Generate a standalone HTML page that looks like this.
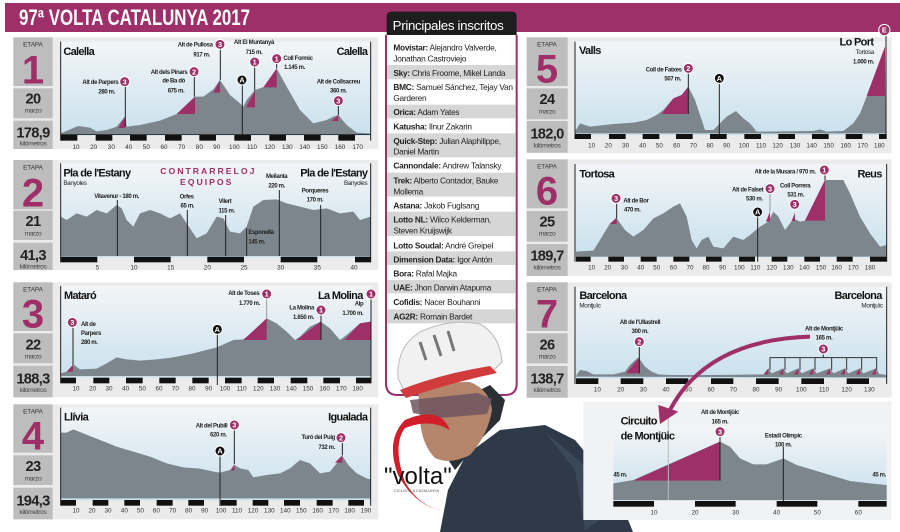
<!DOCTYPE html>
<html><head><meta charset="utf-8"><style>
html,body{margin:0;padding:0;background:#fff;}
svg{display:block;}
text{font-family:"Liberation Sans Narrow","Liberation Sans",sans-serif;}
.b{font-weight:bold;}
.t{font-size:19px;fill:#333;text-anchor:middle;}
.l{font-size:18px;fill:#222;font-weight:bold;letter-spacing:-1px;}
.r{text-anchor:end;}
.c{text-anchor:middle;}
.nm{font-size:33px;font-weight:bold;fill:#111;letter-spacing:-2px;}
.sub{font-size:19px;fill:#222;letter-spacing:-1px;}
.et{font-size:19px;fill:#333;text-anchor:middle;}
.big{font-size:120px;font-weight:bold;fill:#9e2f68;text-anchor:middle;}
.dt{font-size:44px;font-weight:bold;fill:#222;text-anchor:middle;letter-spacing:-2px;}
.mz{font-size:20px;fill:#444;text-anchor:middle;letter-spacing:-1px;}
.pt{font-size:25px;fill:#222;letter-spacing:-0.8px;}
.mk{fill:#9e2f68;stroke:#fff;stroke-width:3;}
.mkA{fill:#111;stroke:#fff;stroke-width:3;}
.mn{font-size:22px;font-weight:bold;fill:#fff;text-anchor:middle;}
.ln{stroke:#222;stroke-width:3;}
.prof{fill:#7d868c;}
.mag{fill:#9e2f68;}
.bar{fill:#111;}
.box{fill:#bdbdbd;}
.pan{fill:#ebebeb;}
</style></head><body>
<svg width="900" height="532" viewBox="0 0 900 532" xmlns="http://www.w3.org/2000/svg">
<defs>
<linearGradient id="sky" x1="0" y1="0" x2="0" y2="1"><stop offset="0" stop-color="#f3f5f7"/><stop offset="1" stop-color="#c9e1ee"/></linearGradient>
</defs>
<rect x="0" y="0" width="900" height="532" fill="#fff"/>
<rect x="5" y="3" width="895" height="29" fill="#9e2f68"/>
<text x="19" y="25" font-size="22" fill="#fff" class="b" textLength="231" lengthAdjust="spacingAndGlyphs">97ª VOLTA CATALUNYA 2017</text>

<g transform="scale(0.333333)">
<rect x="40" y="112" width="1095" height="335" class="pan"/>
<rect x="40" y="112" width="118" height="146" class="box"/>
<rect x="40" y="265" width="118" height="90" class="box"/>
<rect x="40" y="362" width="118" height="85" class="box"/>
<text x="99" y="140" class="et">ETAPA</text>
<text x="99" y="250" class="big">1</text>
<text x="99" y="310" class="dt">20</text><text x="99" y="338" class="mz">marzo</text>
<text x="99" y="412" class="dt">178,9</text><text x="99" y="437" class="mz">kilómetros</text>
<rect x="182" y="125" width="930" height="282" fill="url(#sky)"/>
<polygon class="prof" points="182,405 182,400 235,378 270,383 290,394 320,390 350,380 375,350 380,380 420,375 480,362 530,342 585,290 610,290 640,268 660,240 690,285 720,310 730,320 740,300 765,270 800,258 830,205 860,260 900,330 940,370 980,360 1000,350 1015,345 1040,375 1070,398 1108,400 1112,405"/>
<polygon class="mag" points="355,384 375,350 375,384"/>
<polygon class="mag" points="530,342 585,290 585,342"/>
<polygon class="mag" points="640,278 660,240 660,278"/>
<polygon class="mag" points="738,322 765,272 765,322"/>
<polygon class="mag" points="790,262 830,205 830,262"/>
<polygon class="mag" points="995,363 1015,345 1015,363"/>
<line x1="182" y1="125" x2="182" y2="422" class="ln"/><line x1="1112" y1="125" x2="1112" y2="422" class="ln"/>
<line x1="376" y1="245" x2="376" y2="380" class="ln"/><line x1="583" y1="215" x2="583" y2="290" class="ln"/>
<line x1="661" y1="133" x2="661" y2="240" class="ln"/><line x1="764" y1="186" x2="764" y2="272" class="ln"/>
<line x1="830" y1="176" x2="830" y2="205" class="ln"/><line x1="1015" y1="302" x2="1015" y2="345" class="ln"/>
<line x1="727" y1="240" x2="727" y2="405" class="ln"/>
<rect x="182" y="403" width="930" height="2" fill="#111"/>
<rect class="bar" x="183" y="405" width="49" height="17"/><rect class="bar" x="287" y="405" width="50" height="17"/><rect class="bar" x="390" y="405" width="50" height="17"/><rect class="bar" x="495" y="405" width="50" height="17"/><rect class="bar" x="598" y="405" width="50" height="17"/><rect class="bar" x="703" y="405" width="50" height="17"/><rect class="bar" x="808" y="405" width="50" height="17"/><rect class="bar" x="912" y="405" width="50" height="17"/><rect class="bar" x="1015" y="405" width="50" height="17"/>
<g class="t"><text x="228" y="447">10</text><text x="281" y="447">20</text><text x="334" y="447">30</text><text x="386" y="447">40</text><text x="439" y="447">50</text><text x="492" y="447">60</text><text x="545" y="447">70</text><text x="598" y="447">80</text><text x="650" y="447">90</text><text x="703" y="447">100</text><text x="756" y="447">110</text><text x="809" y="447">120</text><text x="862" y="447">130</text><text x="914" y="447">140</text><text x="967" y="447">150</text><text x="1020" y="447">160</text><text x="1073" y="447">170</text></g>
<text x="190" y="165" class="nm">Calella</text><text x="1102" y="165" class="nm r">Calella</text>
<text x="355" y="252" class="l r">Alt de Parpers</text><text x="345" y="280" class="l r">280 m.</text>
<text x="562" y="222" class="l r">Alt dels Pinars</text><text x="555" y="248" class="l r">de Ba dó</text><text x="553" y="277" class="l r">675 m.</text>
<text x="638" y="140" class="l r">Alt de Pullosa</text><text x="630" y="170" class="l r">917 m.</text>
<text x="762" y="132" class="l c">Alt El Muntanyà</text><text x="762" y="162" class="l c">715 m.</text>
<text x="850" y="180" class="l">Coll Formic</text><text x="852" y="207" class="l">1.145 m.</text>
<text x="1015" y="250" class="l c">Alt de Collsacreu</text><text x="1015" y="278" class="l c">360 m.</text>
<circle cx="374" cy="245" r="15" class="mk"/><text x="374" y="253" class="mn">3</text>
<circle cx="582" cy="215" r="15" class="mk"/><text x="582" y="223" class="mn">2</text>
<circle cx="660" cy="133" r="15" class="mk"/><text x="660" y="141" class="mn">3</text>
<circle cx="764" cy="186" r="15" class="mk"/><text x="764" y="194" class="mn">1</text>
<circle cx="830" cy="176" r="15" class="mk"/><text x="830" y="184" class="mn">1</text>
<circle cx="1015" cy="302" r="15" class="mk"/><text x="1015" y="310" class="mn">3</text>
<circle cx="726" cy="240" r="15" class="mkA"/><text x="726" y="248" class="mn">A</text>

<rect x="40" y="480" width="1095" height="330" class="pan"/>
<rect x="40" y="480" width="118" height="148" class="box"/>
<rect x="40" y="632" width="118" height="88" class="box"/>
<rect x="40" y="728" width="118" height="82" class="box"/>
<text x="99" y="508" class="et">ETAPA</text>
<text x="99" y="620" class="big">2</text>
<text x="99" y="678" class="dt">21</text><text x="99" y="706" class="mz">marzo</text>
<text x="99" y="780" class="dt">41,3</text><text x="99" y="805" class="mz">kilómetros</text>
<rect x="182" y="490" width="930" height="282" fill="url(#sky)"/>
<polygon class="prof" points="182,768 182,650 200,660 230,640 260,650 290,630 320,640 350,615 365,625 380,660 400,680 420,640 450,630 480,640 510,655 540,640 560,670 590,715 620,700 650,650 670,655 690,695 720,700 740,680 760,620 790,600 830,598 860,610 900,620 940,630 980,625 1020,640 1060,635 1080,660 1112,650 1112,768"/>
<line x1="182" y1="490" x2="182" y2="787" class="ln"/><line x1="1112" y1="490" x2="1112" y2="787" class="ln"/>
<line x1="352" y1="600" x2="352" y2="768" class="ln"/><line x1="562" y1="630" x2="562" y2="768" class="ln"/><line x1="677" y1="645" x2="677" y2="768" class="ln"/><line x1="740" y1="685" x2="740" y2="768" class="ln"/><line x1="838" y1="570" x2="838" y2="768" class="ln"/><line x1="962" y1="615" x2="962" y2="768" class="ln"/>
<rect class="bar" x="183" y="770" width="109" height="17"/><rect class="bar" x="402" y="770" width="110" height="17"/><rect class="bar" x="622" y="770" width="110" height="17"/><rect class="bar" x="842" y="770" width="110" height="17"/><rect class="bar" x="1065" y="770" width="47" height="17"/>
<g class="t"><text x="292" y="808">5</text><text x="402" y="808">10</text><text x="512" y="808">15</text><text x="622" y="808">20</text><text x="732" y="808">25</text><text x="842" y="808">30</text><text x="952" y="808">35</text><text x="1062" y="808">40</text></g>
<text x="190" y="530" class="nm">Pla de l'Estany</text><text x="190" y="555" class="sub">Banyoles</text>
<text x="1102" y="530" class="nm r">Pla de l'Estany</text><text x="1102" y="555" class="sub r">Banyoles</text>
<text x="625" y="522" font-size="26" fill="#9e2f68" class="b c" letter-spacing="6">CONTRARRELOJ</text>
<text x="620" y="555" font-size="26" fill="#9e2f68" class="b c" letter-spacing="6">EQUIPOS</text>
<text x="350" y="594" class="l c">Vilavenur - 180 m.</text>
<text x="560" y="595" class="l c">Orfes</text><text x="562" y="622" class="l c">65 m.</text>
<text x="675" y="609" class="l c">Vilert</text><text x="680" y="638" class="l c">115 m.</text>
<text x="745" y="702" class="l">Esponellà</text><text x="745" y="730" class="l">145 m.</text>
<text x="830" y="534" class="l c">Meilanta</text><text x="830" y="562" class="l c">220 m.</text>
<text x="945" y="577" class="l c">Porqueres</text><text x="945" y="605" class="l c">170 m.</text>
</g>

<g transform="translate(0,270) scale(0.333333)">
<rect x="40" y="37" width="1095" height="345" class="pan"/>
<rect x="40" y="37" width="118" height="146" class="box"/>
<rect x="40" y="190" width="118" height="90" class="box"/>
<rect x="40" y="287" width="118" height="95" class="box"/>
<text x="99" y="65" class="et">ETAPA</text>
<text x="99" y="172" class="big">3</text>
<text x="99" y="238" class="dt">22</text><text x="99" y="265" class="mz">marzo</text>
<text x="99" y="340" class="dt">188,3</text><text x="99" y="366" class="mz">kilómetros</text>
<rect x="182" y="48" width="930" height="274" fill="url(#sky)"/>
<polygon class="prof" points="182,318 182,310 200,305 220,283 240,298 290,296 320,280 350,262 380,268 420,272 470,268 520,262 580,250 650,232 700,210 730,208 760,185 800,145 830,160 860,185 885,210 900,200 930,170 962,155 990,175 1020,210 1040,195 1080,160 1112,155 1112,318"/>
<polygon class="mag" points="200,305 219,285 219,305"/>
<polygon class="mag" points="730,210 800,145 800,210"/>
<polygon class="mag" points="890,210 962,155 962,210"/>
<polygon class="mag" points="1033,210 1080,160 1112,155 1112,210"/>
<line x1="182" y1="48" x2="182" y2="340" class="ln"/><line x1="1113" y1="72" x2="1113" y2="340" class="ln"/>
<line x1="219" y1="157" x2="219" y2="285" class="ln"/><line x1="800" y1="72" x2="800" y2="145" stroke="#999" stroke-width="3"/><line x1="963" y1="120" x2="963" y2="210" class="ln"/><line x1="652" y1="178" x2="652" y2="345" class="ln"/>
<rect class="bar" x="183" y="323" width="45" height="17"/><rect class="bar" x="280" y="323" width="48" height="17"/><rect class="bar" x="378" y="323" width="50" height="17"/><rect class="bar" x="478" y="323" width="49" height="17"/><rect class="bar" x="577" y="323" width="49" height="17"/><rect class="bar" x="675" y="323" width="50" height="17"/><rect class="bar" x="773" y="323" width="49" height="17"/><rect class="bar" x="872" y="323" width="50" height="17"/><rect class="bar" x="970" y="323" width="50" height="17"/><rect class="bar" x="1068" y="323" width="44" height="17"/>
<g class="t"><text x="228" y="362">10</text><text x="278" y="362">20</text><text x="327" y="362">30</text><text x="377" y="362">40</text><text x="427" y="362">50</text><text x="477" y="362">60</text><text x="526" y="362">70</text><text x="576" y="362">80</text><text x="626" y="362">90</text><text x="675" y="362">100</text><text x="725" y="362">110</text><text x="775" y="362">120</text><text x="825" y="362">130</text><text x="874" y="362">140</text><text x="924" y="362">150</text><text x="974" y="362">160</text><text x="1024" y="362">170</text><text x="1073" y="362">180</text></g>
<text x="192" y="87" class="nm">Mataró</text><text x="1088" y="87" class="nm r">La Molina</text>
<text x="243" y="168" class="l">Alt de</text><text x="243" y="195" class="l">Parpers</text><text x="243" y="222" class="l">280 m.</text>
<text x="778" y="75" class="l r">Alt de Toses</text><text x="780" y="105" class="l r">1.770 m.</text>
<text x="942" y="119" class="l r">La Molina</text><text x="942" y="147" class="l r">1.650 m.</text>
<text x="1090" y="107" class="l r">Alp</text><text x="1090" y="135" class="l r">1.700 m.</text>
<circle cx="217" cy="157" r="15" class="mk"/><text x="217" y="165" class="mn">3</text>
<circle cx="800" cy="72" r="15" class="mk"/><text x="800" y="80" class="mn">1</text>
<circle cx="963" cy="120" r="15" class="mk"/><text x="963" y="128" class="mn">1</text>
<circle cx="1113" cy="72" r="15" class="mk"/><text x="1113" y="80" class="mn">1</text>
<circle cx="652" cy="178" r="15" class="mkA"/><text x="652" y="186" class="mn">A</text>

<rect x="40" y="403" width="1095" height="345" class="pan"/>
<rect x="40" y="403" width="118" height="145" class="box"/>
<rect x="40" y="556" width="118" height="89" class="box"/>
<rect x="40" y="653" width="118" height="95" class="box"/>
<text x="99" y="431" class="et">ETAPA</text>
<text x="99" y="538" class="big">4</text>
<text x="99" y="603" class="dt">23</text><text x="99" y="631" class="mz">marzo</text>
<text x="99" y="706" class="dt">194,3</text><text x="99" y="732" class="mz">kilómetros</text>
<rect x="182" y="413" width="930" height="278" fill="url(#sky)"/>
<polygon class="prof" points="182,685 182,488 200,488 220,478 250,490 300,510 350,530 400,545 450,560 500,580 550,592 600,596 640,605 660,608 690,600 703,585 720,595 745,600 760,622 800,615 840,610 870,595 900,570 930,580 960,610 990,605 1010,580 1027,558 1045,585 1070,610 1100,625 1112,628 1112,685"/>
<polygon class="mag" points="693,602 703,582 703,602"/>
<polygon class="mag" points="1005,578 1027,556 1027,578"/>
<line x1="182" y1="413" x2="182" y2="707" class="ln"/><line x1="1112" y1="413" x2="1112" y2="707" class="ln"/>
<line x1="703" y1="465" x2="703" y2="582" class="ln"/><line x1="1027" y1="503" x2="1027" y2="556" class="ln"/><line x1="660" y1="543" x2="660" y2="708" class="ln"/>
<rect class="bar" x="183" y="690" width="45" height="17"/><rect class="bar" x="278" y="690" width="47" height="17"/><rect class="bar" x="373" y="690" width="47" height="17"/><rect class="bar" x="470" y="690" width="48" height="17"/><rect class="bar" x="565" y="690" width="47" height="17"/><rect class="bar" x="662" y="690" width="48" height="17"/><rect class="bar" x="758" y="690" width="47" height="17"/><rect class="bar" x="852" y="690" width="48" height="17"/><rect class="bar" x="950" y="690" width="48" height="17"/><rect class="bar" x="1045" y="690" width="47" height="17"/>
<g class="t"><text x="228" y="728">10</text><text x="276" y="728">20</text><text x="324" y="728">30</text><text x="373" y="728">40</text><text x="421" y="728">50</text><text x="469" y="728">60</text><text x="518" y="728">70</text><text x="566" y="728">80</text><text x="614" y="728">90</text><text x="663" y="728">100</text><text x="711" y="728">110</text><text x="759" y="728">120</text><text x="808" y="728">130</text><text x="856" y="728">140</text><text x="904" y="728">150</text><text x="953" y="728">160</text><text x="1001" y="728">170</text><text x="1049" y="728">180</text><text x="1098" y="728">190</text></g>
<text x="192" y="452" class="nm">Llívia</text><text x="1102" y="452" class="nm r">Igualada</text>
<text x="682" y="472" class="l r">Alt del Pubill</text><text x="680" y="500" class="l r">620 m.</text>
<text x="1005" y="507" class="l r">Turó del Puig</text><text x="1005" y="537" class="l r">732 m.</text>
<circle cx="703" cy="465" r="15" class="mk"/><text x="703" y="473" class="mn">3</text>
<circle cx="1023" cy="503" r="15" class="mk"/><text x="1023" y="511" class="mn">2</text>
<circle cx="660" cy="543" r="15" class="mkA"/><text x="660" y="551" class="mn">A</text>
</g>

<g transform="translate(380,0) scale(0.333333)">
<path d="M20,105 L20,50 Q20,35 35,35 L395,35 Q410,35 410,50 L410,105 Z" fill="#1e1e1e"/>
<text x="38" y="90" font-size="40" fill="#fff" letter-spacing="-1">Principales inscritos</text>
<rect x="21" y="105" width="386" height="1050" fill="#fff"/>
<path d="M18,105 V1150 Q18,1185 53,1185 H375 Q410,1185 410,1150 V105" fill="none" stroke="#9e2f68" stroke-width="6"/>
<rect x="21" y="195" width="386" height="43" fill="#d6d6d6"/>
<rect x="21" y="314" width="386" height="41" fill="#d6d6d6"/>
<rect x="21" y="400" width="386" height="72" fill="#d6d6d6"/>
<rect x="21" y="518" width="386" height="72" fill="#d6d6d6"/>
<rect x="21" y="635" width="386" height="73" fill="#d6d6d6"/>
<rect x="21" y="754" width="386" height="41" fill="#d6d6d6"/>
<rect x="21" y="840" width="386" height="40" fill="#d6d6d6"/>
<rect x="21" y="928" width="386" height="42" fill="#d6d6d6"/>
<g class="pt">
<text x="40" y="152"><tspan class="b">Movistar:</tspan> Alejandro Valverde,</text><text x="40" y="185">Jonathan Castroviejo</text>
<text x="40" y="228"><tspan class="b">Sky:</tspan> Chris Froome, Mikel Landa</text>
<text x="40" y="270"><tspan class="b">BMC:</tspan> Samuel Sánchez, Tejay Van</text><text x="40" y="303">Garderen</text>
<text x="40" y="345"><tspan class="b">Orica:</tspan> Adam Yates</text>
<text x="40" y="388"><tspan class="b">Katusha:</tspan> Ilnur Zakarin</text>
<text x="40" y="432"><tspan class="b">Quick-Step:</tspan> Julian Alaphilippe,</text><text x="40" y="464">Daniel Martin</text>
<text x="40" y="506"><tspan class="b">Cannondale:</tspan> Andrew Talansky</text>
<text x="40" y="550"><tspan class="b">Trek:</tspan> Alberto Contador, Bauke</text><text x="40" y="583">Mollema</text>
<text x="40" y="625"><tspan class="b">Astana:</tspan> Jakob Fuglsang</text>
<text x="40" y="668"><tspan class="b">Lotto NL:</tspan> Wilco Kelderman,</text><text x="40" y="700">Steven Kruijswijk</text>
<text x="40" y="745"><tspan class="b">Lotto Soudal:</tspan> André Greipel</text>
<text x="40" y="787"><tspan class="b">Dimension Data:</tspan> Igor Antón</text>
<text x="40" y="830"><tspan class="b">Bora:</tspan> Rafal Majka</text>
<text x="40" y="872"><tspan class="b">UAE:</tspan> Jhon Darwin Atapuma</text>
<text x="40" y="915"><tspan class="b">Cofidis:</tspan> Nacer Bouhanni</text>
<text x="40" y="958"><tspan class="b">AG2R:</tspan> Romain Bardet</text>
</g>
<rect x="440" y="112" width="1095" height="348" class="pan"/>
<rect x="440" y="112" width="123" height="146" class="box"/>
<rect x="440" y="265" width="123" height="93" class="box"/>
<rect x="440" y="363" width="123" height="95" class="box"/>
<text x="501" y="140" class="et">ETAPA</text>
<text x="501" y="248" class="big">5</text>
<text x="501" y="312" class="dt">24</text><text x="501" y="340" class="mz">marzo</text>
<text x="501" y="415" class="dt">182,0</text><text x="501" y="442" class="mz">kilómetros</text>
<rect x="585" y="125" width="935" height="280" fill="url(#sky)"/>
<polygon class="prof" points="585,400 585,395 600,370 630,380 700,372 760,368 800,360 830,345 850,330 880,295 905,285 925,260 945,300 960,345 975,390 1000,390 1015,375 1040,350 1068,333 1090,355 1110,370 1130,395 1300,393 1320,388 1340,395 1390,393 1420,370 1440,340 1460,290 1490,210 1515,140 1517,400"/>
<polygon class="mag" points="845,342 880,295 905,285 925,260 925,342"/>
<polygon class="mag" points="1460,288 1515,140 1515,288"/>
<line x1="585" y1="125" x2="585" y2="417" class="ln"/><line x1="1518" y1="100" x2="1518" y2="417" class="ln"/>
<line x1="925" y1="205" x2="925" y2="342" class="ln"/><line x1="1018" y1="235" x2="1018" y2="410" class="ln"/>
<rect class="bar" x="585" y="402" width="48" height="15"/><rect class="bar" x="687" y="402" width="50" height="15"/><rect class="bar" x="788" y="402" width="50" height="15"/><rect class="bar" x="888" y="402" width="50" height="15"/><rect class="bar" x="990" y="402" width="50" height="15"/><rect class="bar" x="1093" y="402" width="50" height="15"/><rect class="bar" x="1195" y="402" width="50" height="15"/><rect class="bar" x="1296" y="402" width="50" height="15"/><rect class="bar" x="1397" y="402" width="50" height="15"/><rect class="bar" x="1497" y="402" width="23" height="15"/>
<g class="t"><text x="635" y="442">10</text><text x="685" y="442">20</text><text x="737" y="442">30</text><text x="788" y="442">40</text><text x="838" y="442">50</text><text x="890" y="442">60</text><text x="940" y="442">70</text><text x="990" y="442">80</text><text x="1040" y="442">90</text><text x="1092" y="442">100</text><text x="1143" y="442">110</text><text x="1193" y="442">120</text><text x="1245" y="442">130</text><text x="1295" y="442">140</text><text x="1346" y="442">150</text><text x="1397" y="442">160</text><text x="1448" y="442">170</text><text x="1498" y="442">180</text></g>
<text x="597" y="162" class="nm">Valls</text>
<text x="1480" y="137" class="nm r">Lo Port</text><text x="1482" y="162" class="sub r">Tortosa</text><text x="1482" y="190" class="l r">1.000 m.</text>
<text x="905" y="214" class="l r">Coll de Fatxes</text><text x="903" y="242" class="l r">507 m.</text>
<circle cx="925" cy="205" r="15" class="mk"/><text x="925" y="213" class="mn">2</text>
<circle cx="1018" cy="235" r="15" class="mkA"/><text x="1018" y="243" class="mn">A</text>
<circle cx="1513" cy="90" r="17" class="mk"/><text x="1513" y="98" class="mn">E</text>

<rect x="440" y="478" width="1095" height="350" class="pan"/>
<rect x="440" y="478" width="123" height="147" class="box"/>
<rect x="440" y="633" width="123" height="92" class="box"/>
<rect x="440" y="732" width="123" height="96" class="box"/>
<text x="501" y="506" class="et">ETAPA</text>
<text x="501" y="614" class="big">6</text>
<text x="501" y="680" class="dt">25</text><text x="501" y="707" class="mz">marzo</text>
<text x="501" y="782" class="dt">189,7</text><text x="501" y="808" class="mz">kilómetros</text>
<rect x="585" y="492" width="935" height="280" fill="url(#sky)"/>
<polygon class="prof" points="588,770 588,755 640,752 660,720 690,670 710,655 735,690 760,710 790,690 820,655 850,640 880,620 900,610 920,650 935,720 950,745 965,720 985,710 1000,740 1030,745 1060,710 1090,720 1110,705 1140,680 1165,665 1180,635 1195,650 1215,690 1230,670 1240,655 1260,665 1275,662 1335,540 1390,540 1410,580 1440,650 1470,700 1500,740 1520,735 1520,770"/>
<polygon class="mag" points="690,672 710,652 710,672"/>
<polygon class="mag" points="1158,665 1170,635 1170,665"/>
<polygon class="mag" points="1235,663 1245,638 1245,663"/>
<polygon class="mag" points="1275,662 1335,540 1335,662"/>
<line x1="585" y1="492" x2="585" y2="785" class="ln"/><line x1="1520" y1="492" x2="1520" y2="785" class="ln"/>
<line x1="710" y1="595" x2="710" y2="655" class="ln"/><line x1="1170" y1="566" x2="1170" y2="635" stroke="#999" stroke-width="3"/><line x1="1133" y1="636" x2="1133" y2="785" class="ln"/><line x1="1335" y1="510" x2="1335" y2="540" class="ln"/>
<rect class="bar" x="588" y="770" width="44" height="15"/><rect class="bar" x="685" y="770" width="47" height="15"/><rect class="bar" x="782" y="770" width="48" height="15"/><rect class="bar" x="880" y="770" width="48" height="15"/><rect class="bar" x="978" y="770" width="47" height="15"/><rect class="bar" x="1077" y="770" width="48" height="15"/><rect class="bar" x="1175" y="770" width="47" height="15"/><rect class="bar" x="1273" y="770" width="47" height="15"/><rect class="bar" x="1370" y="770" width="48" height="15"/><rect class="bar" x="1470" y="770" width="50" height="15"/>
<g class="t"><text x="635" y="809">10</text><text x="683" y="809">20</text><text x="733" y="809">30</text><text x="782" y="809">40</text><text x="830" y="809">50</text><text x="880" y="809">60</text><text x="930" y="809">70</text><text x="978" y="809">80</text><text x="1028" y="809">90</text><text x="1078" y="809">100</text><text x="1126" y="809">110</text><text x="1175" y="809">120</text><text x="1225" y="809">130</text><text x="1273" y="809">140</text><text x="1323" y="809">150</text><text x="1370" y="809">160</text><text x="1420" y="809">170</text><text x="1470" y="809">180</text></g>
<text x="598" y="532" class="nm">Tortosa</text><text x="1505" y="532" class="nm r">Reus</text>
<text x="730" y="607" class="l">Alt de Bor</text><text x="732" y="634" class="l">470 m.</text>
<text x="1150" y="575" class="l r">Alt de Falset</text><text x="1148" y="602" class="l r">530 m.</text>
<text x="1200" y="562" class="l">Coll Porrera</text><text x="1222" y="590" class="l">531 m.</text>
<text x="1307" y="520" class="l r">Alt de la Musara / 970 m.</text>
<circle cx="708" cy="595" r="15" class="mk"/><text x="708" y="603" class="mn">3</text>
<circle cx="1170" cy="566" r="15" class="mk"/><text x="1170" y="574" class="mn">3</text>
<circle cx="1244" cy="613" r="15" class="mk"/><text x="1244" y="621" class="mn">3</text>
<circle cx="1333" cy="510" r="15" class="mk"/><text x="1333" y="518" class="mn">1</text>
<circle cx="1133" cy="636" r="15" class="mkA"/><text x="1133" y="644" class="mn">A</text>
</g>

<g>
<polygon points="440,532 448,490 466,455 500,430 545,425 575,440 600,470 620,500 633,532" fill="#2e3a48"/>
<polygon points="455,470 480,440 500,420 505,400 490,385 470,395 450,420 445,455" fill="#2a2f36"/>
<path d="M418,388 Q430,382 470,382 Q490,390 492,410 Q488,435 470,455 Q450,465 435,458 Q422,445 420,420 Z" fill="#b4856a"/>
<path d="M410,400 L478,393 L492,399 L487,414 L440,418 L413,413 Z" fill="#6f5560" opacity="0.85"/>
<path d="M398,378 Q396,347 420,332 Q450,318 480,324 Q500,335 502,362 L492,372 Q450,380 405,393 Z" fill="#f1f1f1" stroke="#bbb" stroke-width="1"/>
<path d="M400,390 Q440,374 490,366 L497,373 Q450,383 406,398 Z" fill="#d23b3b"/>
<path d="M420,342 L426,360 M434,335 L441,356 M448,331 L454,351" stroke="#777" stroke-width="3"/>
<path d="M545,432 L590,470 L600,520 L585,530 L575,470 Z" fill="#3b4858"/>
<path d="M398,475 Q385,440 405,420 Q440,405 450,430 Q430,418 405,428 Q392,445 405,482 Q418,505 440,510 Q415,505 398,475 Z" fill="#d01e2a"/>
<text x="384" y="484" font-family="Liberation Serif,serif" font-size="24" fill="#111">"volta"</text>
<text x="394" y="492" font-size="4" fill="#555">CICLISTA A CATALUNYA</text>
</g>

<g transform="translate(380,270) scale(0.333333)">
<rect x="440" y="37" width="1095" height="346" class="pan"/>
<rect x="440" y="37" width="123" height="146" class="box"/>
<rect x="440" y="190" width="123" height="90" class="box"/>
<rect x="440" y="288" width="123" height="95" class="box"/>
<text x="501" y="65" class="et">ETAPA</text>
<text x="501" y="172" class="big">7</text>
<text x="501" y="238" class="dt">26</text><text x="501" y="265" class="mz">marzo</text>
<text x="501" y="340" class="dt">138,7</text><text x="501" y="366" class="mz">kilómetros</text>
<rect x="585" y="50" width="937" height="275" fill="url(#sky)"/>
<polygon class="prof" points="588,320 590,315 600,300 620,303 640,313 700,313 735,305 750,285 775,262 795,290 815,305 835,313 870,315 1000,315 1150,313 1165,295 1175,310 1210,295 1220,310 1255,295 1265,310 1300,295 1310,310 1350,295 1360,310 1395,295 1405,310 1440,295 1450,310 1488,295 1498,312 1520,315 1520,322"/>
<polygon class="mag" points="738,310 778,262 778,310"/>
<polygon class="mag" points="1152,313 1165,295 1165,313"/><polygon class="mag" points="1197,313 1210,295 1210,313"/><polygon class="mag" points="1242,313 1255,295 1255,313"/><polygon class="mag" points="1287,313 1300,295 1300,313"/><polygon class="mag" points="1337,313 1350,295 1350,313"/><polygon class="mag" points="1382,313 1395,295 1395,313"/><polygon class="mag" points="1427,313 1440,295 1440,313"/><polygon class="mag" points="1475,313 1488,295 1488,313"/>
<line x1="585" y1="50" x2="585" y2="342" class="ln"/><line x1="1520" y1="50" x2="1520" y2="342" class="ln"/>
<line x1="778" y1="215" x2="778" y2="310" class="ln"/>
<g stroke="#333" stroke-width="3" fill="none"><path d="M1170,300 V263 H1490 V300 M1215,263 V300 M1260,263 V300 M1305,263 V300 M1355,263 V300 M1400,263 V300 M1445,263 V300 M1330,237 V263"/></g>
<rect class="bar" x="588" y="325" width="67" height="17"/><rect class="bar" x="722" y="325" width="68" height="17"/><rect class="bar" x="858" y="325" width="67" height="17"/><rect class="bar" x="993" y="325" width="67" height="17"/><rect class="bar" x="1128" y="325" width="68" height="17"/><rect class="bar" x="1264" y="325" width="68" height="17"/><rect class="bar" x="1400" y="325" width="67" height="17"/>
<g class="t"><text x="652" y="364">10</text><text x="722" y="364">20</text><text x="790" y="364">30</text><text x="858" y="364">40</text><text x="925" y="364">50</text><text x="993" y="364">60</text><text x="1060" y="364">70</text><text x="1128" y="364">80</text><text x="1196" y="364">90</text><text x="1264" y="364">100</text><text x="1332" y="364">110</text><text x="1400" y="364">120</text><text x="1468" y="364">130</text></g>
<text x="598" y="87" class="nm">Barcelona</text><text x="598" y="112" class="sub">Montjuïc</text>
<text x="1505" y="87" class="nm r">Barcelona</text><text x="1508" y="112" class="sub r">Montjuïc</text>
<text x="780" y="162" class="l c">Alt de l'Ullastrell</text><text x="780" y="189" class="l c">300 m.</text>
<text x="1332" y="182" class="l c">Alt de Montjüic</text><text x="1332" y="209" class="l c">165 m.</text>
<circle cx="778" cy="215" r="15" class="mk"/><text x="778" y="223" class="mn">2</text>
<circle cx="1330" cy="237" r="15" class="mk"/><text x="1330" y="245" class="mn">3</text>

<rect x="610" y="395" width="925" height="355" fill="#f0f2f4"/>
<rect x="700" y="470" width="820" height="222" fill="url(#sky)"/>
<polygon class="prof" points="700,690 700,640 760,630 1020,515 1050,530 1080,565 1120,583 1160,583 1210,565 1250,585 1300,600 1350,615 1410,633 1470,640 1520,645 1520,690"/>
<polygon class="mag" points="760,632 1020,515 1020,632"/>
<line x1="865" y1="430" x2="865" y2="690" stroke="#bbb" stroke-width="3"/>
<line x1="1020" y1="485" x2="1020" y2="632" class="ln"/><line x1="1210" y1="530" x2="1210" y2="705" class="ln"/>
<rect class="bar" x="700" y="693" width="122" height="17"/><rect class="bar" x="945" y="693" width="122" height="17"/><rect class="bar" x="1190" y="693" width="122" height="17"/><rect class="bar" x="1435" y="693" width="85" height="17"/>
<g class="t"><text x="822" y="734">10</text><text x="945" y="734">20</text><text x="1067" y="734">30</text><text x="1190" y="734">40</text><text x="1312" y="734">50</text><text x="1435" y="734">60</text></g>
<text x="722" y="464" class="nm">Circuito</text><text x="722" y="508" class="nm">de Montjüic</text>
<text x="1020" y="432" class="l c">Alt de Montjüic</text><text x="1020" y="460" class="l c">165 m.</text>
<text x="1210" y="502" class="l c">Estadi Olímpic</text><text x="1210" y="530" class="l c">100 m.</text>
<text x="700" y="620" class="l">45 m.</text><text x="1518" y="620" class="l r">45 m.</text>
<circle cx="1020" cy="485" r="15" class="mk"/><text x="1020" y="493" class="mn">3</text>
<path d="M1290,200 Q980,210 870,420" fill="none" stroke="#9e2f68" stroke-width="12"/>
<polygon points="840,462 835,405 895,425" fill="#9e2f68"/>
</g>
</svg>
</body></html>
